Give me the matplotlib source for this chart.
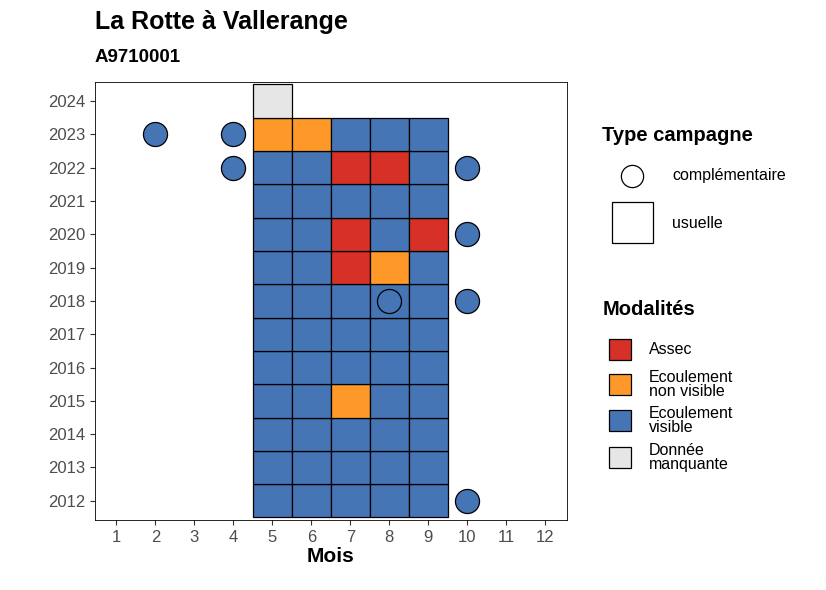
import matplotlib
matplotlib.use("Agg")
import matplotlib.pyplot as plt
from matplotlib.patches import Rectangle
from matplotlib.lines import Line2D

plt.rcParams["font.family"] = ["Liberation Sans", "DejaVu Sans"]

colors = {"Assec": "#d73027", "Ecoulement\nnon visible": "#fe9929",
          "Ecoulement\nvisible": "#4575b4", "Donnée\nmanquante": "#e6e6e6"}
A, O, V, M = "Assec", "Ecoulement\nnon visible", "Ecoulement\nvisible", "Donnée\nmanquante"

months = [5, 6, 7, 8, 9]
years = list(range(2012, 2024))
grid = {
    2023: [O, O, V, V, V],
    2022: [V, V, A, A, V],
    2021: [V, V, V, V, V],
    2020: [V, V, A, V, A],
    2019: [V, V, A, O, V],
    2018: [V, V, V, V, V],
    2017: [V, V, V, V, V],
    2016: [V, V, V, V, V],
    2015: [V, V, O, V, V],
    2014: [V, V, V, V, V],
    2013: [V, V, V, V, V],
    2012: [V, V, V, V, V],
}
extra_tiles = [(5, 2024, M)]
circles = [(2, 2023), (4, 2023), (4, 2022), (10, 2022), (10, 2020),
           (8, 2018), (10, 2018), (10, 2012)]

fig = plt.figure(figsize=(8.26, 5.9), dpi=100)
ax = fig.add_axes([0.115, 0.119, 0.571, 0.742])

for y in years:
    for m, mod in zip(months, grid[y]):
        ax.add_patch(Rectangle((m - 0.5, y - 0.5), 1, 1, facecolor=colors[mod],
                               edgecolor="black", lw=0.9))
for m, y, mod in extra_tiles:
    ax.add_patch(Rectangle((m - 0.5, y - 0.5), 1, 1, facecolor=colors[mod],
                           edgecolor="black", lw=0.9))
ax.scatter([c[0] for c in circles], [c[1] for c in circles], s=300,
           facecolor=colors[V], edgecolor="black", lw=0.9, zorder=3)

ax.set_xlim(0.45, 12.55)
ax.set_ylim(2011.43, 2024.57)
ax.set_xticks(range(1, 13))
ax.set_yticks(range(2012, 2025))
ax.tick_params(labelsize=12, colors="#333333", labelcolor="#4d4d4d")
ax.set_xlabel("Mois", fontsize=15, fontweight="bold", labelpad=2)
for s in ax.spines.values():
    s.set_linewidth(0.6)

fig.text(0.115, 0.963, "La Rotte à Vallerange", fontsize=18, fontweight="bold", va="center")
fig.text(0.115, 0.903, "A9710001", fontsize=13.5, fontweight="bold", va="center")

# legends
fig.text(0.729, 0.77, "Type campagne", fontsize=14.5, fontweight="bold", va="center")
fig.add_artist(Line2D([0.765], [0.702], marker="o", ms=16, mfc="white", mec="black",
                      mew=0.9, transform=fig.transFigure))
fig.text(0.814, 0.702, "complémentaire", fontsize=11.5, va="center")
fig.add_artist(Rectangle((0.741, 0.588), 0.049, 0.07, facecolor="white", edgecolor="black",
                         lw=0.9, transform=fig.transFigure))
fig.text(0.814, 0.621, "usuelle", fontsize=11.5, va="center")

fig.text(0.729, 0.476, "Modalités", fontsize=14.5, fontweight="bold", va="center")
ys = [0.408, 0.348, 0.287, 0.225]
for yy, mod in zip(ys, [A, O, V, M]):
    fig.add_artist(Rectangle((0.737, yy - 0.018), 0.027, 0.036, facecolor=colors[mod],
                             edgecolor="black", lw=0.9, transform=fig.transFigure))
    fig.text(0.786, yy, mod, fontsize=11.5, va="center", linespacing=0.95)

fig.savefig("out.png", dpi=100)
